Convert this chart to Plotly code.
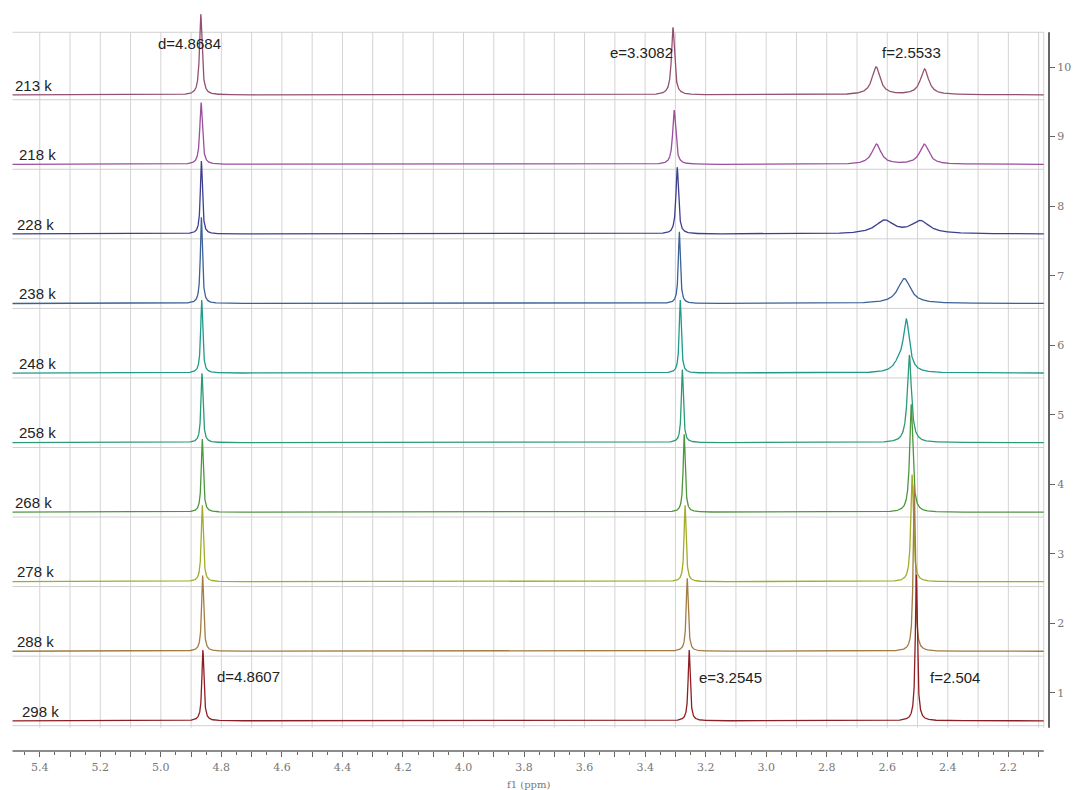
import numpy as np
import plotly.graph_objects as go

# ---------------- data ----------------
temps = ["213 k", "218 k", "228 k", "238 k", "248 k", "258 k", "268 k", "278 k", "288 k", "298 k"]
offsets = [9.6, 8.6, 7.6, 6.6, 5.6, 4.6, 3.6, 2.6, 1.6, 0.6]

# peak d
d_pos = [4.868, 4.867, 4.866, 4.866, 4.865, 4.864, 4.863, 4.863, 4.862, 4.861]
d_hgt = [1.16, 0.89, 1.05, 1.24, 1.05, 1.00, 1.05, 1.10, 1.09, 1.02]
d_wid = [0.005, 0.005, 0.004, 0.004, 0.004, 0.004, 0.004, 0.004, 0.004, 0.004]
# peak e
e_pos = [3.308, 3.304, 3.294, 3.287, 3.284, 3.277, 3.271, 3.268, 3.261, 3.2545]
e_hgt = [0.97, 0.78, 0.96, 1.03, 1.05, 1.05, 1.12, 1.10, 1.05, 1.02]
e_wid = [0.006, 0.006, 0.005, 0.004, 0.004, 0.004, 0.004, 0.004, 0.004, 0.004]
# peak f (first component)
f1_pos = [2.637, 2.636, 2.609, 2.544, 2.537, 2.527, 2.521, 2.518, 2.511, 2.504]
f1_hgt = [0.40, 0.29, 0.19, 0.36, 0.73, 1.26, 1.55, 1.54, 2.40, 2.10]
f1_wid = [0.016, 0.018, 0.035, 0.025, 0.012, 0.008, 0.006, 0.005, 0.004, 0.004]
# peak f (second component / shoulder)
f2_pos = [2.477, 2.478, 2.491, 2.544, 2.562, 2.527, 2.521, 2.518, 2.511, 2.504]
f2_hgt = [0.37, 0.29, 0.18, 0.0, 0.12, 0.0, 0.0, 0.0, 0.0, 0.0]
f2_wid = [0.016, 0.018, 0.035, 0.02, 0.02, 0.01, 0.01, 0.01, 0.01, 0.01]

colors = ["#94506F", "#9A4E9E", "#3D3F8E", "#3B6196", "#1F9A8C",
          "#2C9A78", "#4E963E", "#A2AC2A", "#A27C42", "#8E1E22"]

x_ticks = [round(5.4 - 0.1 * i, 1) for i in range(34)]
y_ticks = [1, 2, 3, 4, 5, 6, 7, 8, 9, 10]

peak_labels = ["d=4.8684", "e=3.3082", "f=2.5533", "d=4.8607", "e=3.2545", "f=2.504"]
peak_label_x = [4.9054, 3.4118, 2.5209, 4.7089, 3.1170, 2.3768]
peak_label_y = [10.345, 10.216, 10.216, 1.244, 1.230, 1.230]
temp_label_x = [5.488, 5.475, 5.481, 5.475, 5.475, 5.475, 5.488, 5.481, 5.481, 5.465]

# ---------------- figure ----------------
X_LEFT, X_RIGHT = 5.49, 2.083
x = np.linspace(X_LEFT, X_RIGHT, 9000)


def lor(xx, p, h, w):
    return h / (1.0 + ((xx - p) / w) ** 2)


fig = go.Figure()

# grid shapes
shapes = []
for v in x_ticks:
    shapes.append(dict(type="line", xref="x", yref="y", x0=v, x1=v, y0=0.5, y1=10.5,
                       line=dict(color="#d4d4d4", width=1), layer="below"))
shapes.append(dict(type="line", xref="x", yref="y", x0=X_RIGHT, x1=X_RIGHT, y0=0.5, y1=10.5,
                   line=dict(color="#d4d4d4", width=1), layer="below"))
for k in range(10):
    yy = 0.53 + k
    shapes.append(dict(type="line", xref="x", yref="y", x0=X_LEFT, x1=X_RIGHT, y0=yy, y1=yy,
                       line=dict(color="#d0d0d0", width=1), layer="below"))
shapes.append(dict(type="line", xref="x", yref="y", x0=X_LEFT, x1=X_RIGHT, y0=10.5, y1=10.5,
                   line=dict(color="#d0d0d0", width=1), layer="below"))
# right axis line
shapes.append(dict(type="line", xref="paper", yref="y", x0=1, x1=1, y0=0.5, y1=10.5,
                   line=dict(color="#666666", width=2)))
# bottom axis line
shapes.append(dict(type="line", xref="x", yref="paper", x0=X_LEFT, x1=X_RIGHT, y0=0, y1=0,
                   line=dict(color="#666666", width=1.5)))

for i in range(len(temps)):
    y = (offsets[i]
         + lor(x, d_pos[i], d_hgt[i], d_wid[i])
         + lor(x, e_pos[i], e_hgt[i], e_wid[i])
         + lor(x, f1_pos[i], f1_hgt[i], f1_wid[i])
         + lor(x, f2_pos[i], f2_hgt[i], f2_wid[i]))
    fig.add_trace(go.Scatter(x=x, y=y, mode="lines", name=temps[i],
                             line=dict(color=colors[i], width=1.3),
                             showlegend=False, hoverinfo="skip"))

annotations = []
for i, t in enumerate(temps):
    annotations.append(dict(x=temp_label_x[i], y=offsets[i] + 0.14, xref="x", yref="y",
                            text=t, showarrow=False, xanchor="left", yanchor="middle",
                            font=dict(family="Liberation Sans, Arial", size=15, color="#222222")))
for t, px, py in zip(peak_labels, peak_label_x, peak_label_y):
    annotations.append(dict(x=px, y=py, xref="x", yref="y", text=t, showarrow=False,
                            xanchor="center", yanchor="middle",
                            font=dict(family="Liberation Sans, Arial", size=15, color="#222222")))
annotations.append(dict(x=3.785, y=-0.045, xref="x", yref="paper", text="f1 (ppm)",
                        showarrow=False, xanchor="center", yanchor="middle",
                        font=dict(family="DejaVu Serif", size=10, color="#777777")))

x_text = [("%.1f" % v) if (round(v * 10) % 2 == 0) else "" for v in x_ticks]

fig.update_layout(
    width=1081, height=790,
    margin=dict(l=12, r=23, t=10, b=39),
    paper_bgcolor="white", plot_bgcolor="white",
    shapes=shapes, annotations=annotations,
    xaxis=dict(range=[5.4917, 2.0657], showgrid=False, zeroline=False, showline=False,
               tickmode="array", tickvals=x_ticks, ticktext=x_text,
               ticks="outside", ticklen=5, tickwidth=1, tickcolor="#666666",
               ticklabelstandoff=1,
               minor=dict(tickmode="array", tickvals=[round(5.45 - 0.1 * i, 2) for i in range(34)],
                          ticks="outside", ticklen=3, tickcolor="#666666"),
               tickfont=dict(family="DejaVu Serif", size=11, color="#777777")),
    yaxis=dict(range=[0.166, 10.82], side="right", showgrid=False, zeroline=False,
               showline=False, tickmode="array", tickvals=y_ticks,
               ticks="outside", ticklen=5, tickcolor="#666666",
               tickfont=dict(family="DejaVu Serif", size=11, color="#777777")),
)

fig.write_html("out.html")
